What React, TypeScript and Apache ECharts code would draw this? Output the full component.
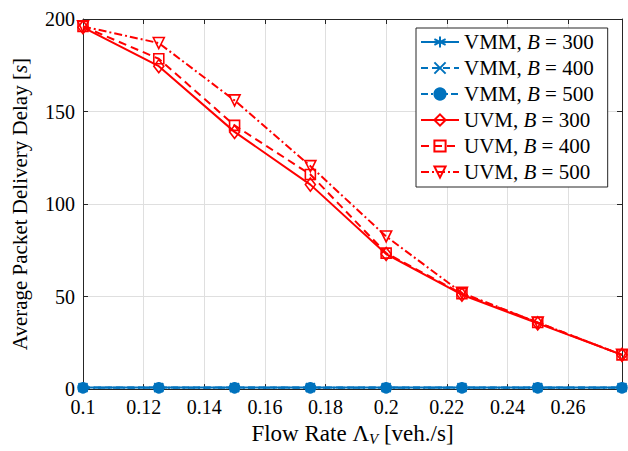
import React, { useEffect, useRef } from "react";
import * as echarts from "echarts";

const xValues = [0.1, 0.125, 0.15, 0.175, 0.2, 0.225, 0.25, 0.2778];
const vmm300 = [0.9, 0.9, 0.9, 0.9, 0.9, 0.9, 0.9, 0.9];
const vmm400 = [0.8, 0.8, 0.8, 0.8, 0.8, 0.8, 0.8, 0.8];
const vmm500 = [0.7, 0.7, 0.7, 0.7, 0.7, 0.7, 0.7, 0.7];
const uvm300 = [195.5, 174.5, 139, 110.5, 73, 51, 35.5, 18.5];
const uvm400 = [196, 178.5, 142.5, 116, 73.5, 51.5, 36, 18.5];
const uvm500 = [196, 187, 156, 120.5, 82.5, 52, 36, 18.5];
const seriesNames = [
  "VMM, B = 300",
  "VMM, B = 400",
  "VMM, B = 500",
  "UVM, B = 300",
  "UVM, B = 400",
  "UVM, B = 500",
];
const xTicks = [0.1, 0.12, 0.14, 0.16, 0.18, 0.2, 0.22, 0.24, 0.26];
const yTicks = [0, 50, 100, 150, 200];

const FONT = "'Liberation Serif', 'DejaVu Serif', serif";
const BLUE = "#0072BD";
const RED = "#FF0000";
const AX = "#262626";

const asterisk = "path://M5,0L5,10M0.67,2.5L9.33,7.5M0.67,7.5L9.33,2.5";
const cross = "path://M0,0L10,10M0,10L10,0";

function pairs(ys: number[]) {
  return xValues.map((x, i) => [x, ys[i]]);
}

export default function App() {
  const ref = useRef<HTMLDivElement>(null);
  useEffect(() => {
    if (!ref.current) return;
    const chart = echarts.init(ref.current, undefined, { renderer: "svg" });
    const mk = (
      name: string,
      data: number[],
      color: string,
      lineType: any,
      symbol: string,
      size: any,
      rotate = 0,
      fill = "rgba(0,0,0,0)"
    ) => ({
      name,
      type: "line",
      data: pairs(data),
      symbol,
      symbolSize: size,
      symbolRotate: rotate,
      showAllSymbol: true,
      lineStyle: { color, width: 2, type: lineType },
      itemStyle: { color: fill, borderColor: color, borderWidth: 1.6 },
      emphasis: { disabled: true },
      z: 3,
    });
    chart.setOption({
      animation: false,
      grid: { left: 83, right: 6, top: 19, bottom: 49, containLabel: false },
      legend: {
        left: 416,
        top: 28,
        orient: "vertical",
        backgroundColor: "#fff",
        borderColor: AX,
        borderWidth: 1,
        borderRadius: 0,
        padding: [3, 14, 4, 4],
        itemWidth: 38,
        itemHeight: 14,
        itemGap: 4,
        data: seriesNames,
        formatter: (name: string) => {
          const [a, b] = name.split(", B");
          return `{n|${a}, }{i|B}{n|${b}}`;
        },
        textStyle: {
          fontFamily: FONT,
          fontSize: 21,
          color: "#000",
          lineHeight: 22,
          rich: {
            n: { fontFamily: FONT, fontSize: 21, color: "#000", lineHeight: 22 },
            i: { fontFamily: FONT, fontSize: 21, color: "#000", fontStyle: "italic", lineHeight: 22 },
          },
        },
      },
      xAxis: [
        {
          type: "value",
          min: 0.1,
          max: 0.2778,
          interval: 0.02,
          name: "Flow Rate Λ{sub|V} [veh./s]",
          nameLocation: "middle",
          nameGap: 30,
          nameTextStyle: {
            fontFamily: FONT,
            fontSize: 23,
            color: "#000",
            rich: {
              sub: { fontFamily: FONT, fontSize: 15, fontStyle: "italic", color: "#000", verticalAlign: "bottom", padding: [10, 0, 0, 0] },
            },
          },
          axisLine: { show: true, onZero: false, lineStyle: { color: AX, width: 1 } },
          axisTick: { show: true, inside: true, length: 5, lineStyle: { color: AX } },
          axisLabel: {
            show: true,
            margin: 9,
            fontFamily: FONT,
            fontSize: 20,
            lineHeight: 18,
            color: "#000",
            showMaxLabel: false,
            formatter: (v: number) => {
              const r = Math.round(v * 100) / 100;
              return xTicks.some((t) => Math.abs(t - r) < 1e-9) ? String(r) : "";
            },
          },
          splitLine: { show: true, lineStyle: { color: "#dfdfdf", width: 1 } },
        },
        {
          type: "value",
          position: "top",
          min: 0.1,
          max: 0.2778,
          interval: 0.02,
          axisLine: { show: true, onZero: false, lineStyle: { color: AX, width: 1 } },
          axisTick: { show: true, inside: true, length: 5, lineStyle: { color: AX } },
          axisLabel: { show: false },
          splitLine: { show: false },
        },
      ],
      yAxis: [
        {
          type: "value",
          min: 0,
          max: 200,
          interval: 50,
          name: "Average Packet Delivery Delay [{i|s}]",
          nameLocation: "middle",
          nameGap: 53,
          nameRotate: 90,
          nameTextStyle: {
            fontFamily: FONT,
            fontSize: 21,
            color: "#000",
            rich: { i: { fontFamily: FONT, fontSize: 21, fontStyle: "italic", color: "#000" } },
          },
          axisLine: { show: true, onZero: false, lineStyle: { color: AX, width: 1 } },
          axisTick: { show: true, inside: true, length: 5, lineStyle: { color: AX } },
          axisLabel: {
            margin: 8,
            fontFamily: FONT,
            fontSize: 20,
            lineHeight: 16,
            color: "#000",
            formatter: (v: number) => (yTicks.includes(v) ? String(v) : ""),
          },
          splitLine: { show: true, lineStyle: { color: "#dfdfdf", width: 1 } },
        },
        {
          type: "value",
          position: "right",
          min: 0,
          max: 200,
          interval: 50,
          axisLine: { show: true, onZero: false, lineStyle: { color: AX, width: 1 } },
          axisTick: { show: true, inside: true, length: 5, lineStyle: { color: AX } },
          axisLabel: { show: false },
          splitLine: { show: false },
        },
      ],
      series: [
        mk(seriesNames[0], vmm300, BLUE, "solid", asterisk, 10),
        mk(seriesNames[1], vmm400, BLUE, [7, 4], cross, 9),
        mk(seriesNames[2], vmm500, BLUE, [7, 3, 2, 3], "circle", 10, 0, BLUE),
        mk(seriesNames[3], uvm300, RED, "solid", "diamond", [10, 13]),
        mk(seriesNames[4], uvm400, RED, [8, 5], "rect", 10),
        mk(seriesNames[5], uvm500, RED, [8, 3, 2, 3], "triangle", 11, 180),
      ],
    });
    return () => chart.dispose();
  }, []);
  return (
    <div
      ref={ref}
      style={{ position: "absolute", left: 0, top: 0, width: 628, height: 451, background: "#fff" }}
    />
  );
}
